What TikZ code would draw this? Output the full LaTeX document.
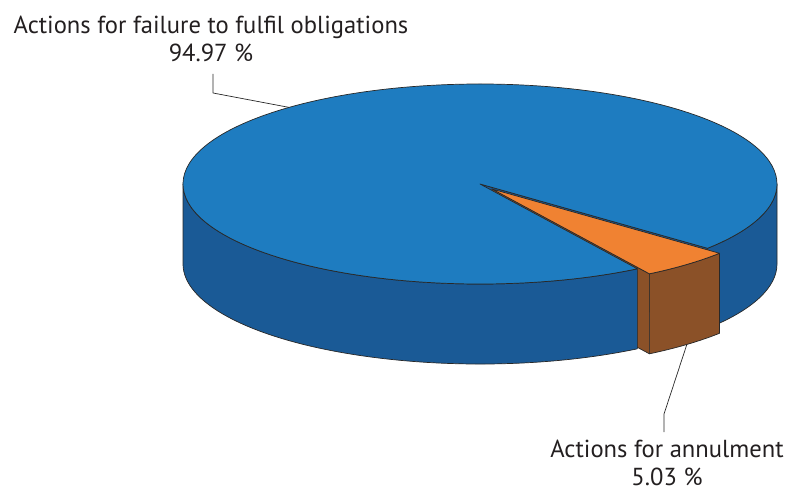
\documentclass[tikz,border=0pt]{standalone}
\usepackage{fontspec}
\setmainfont{PT Sans}
\usetikzlibrary{calc}
\definecolor{topblue}{RGB}{30,124,192}
\definecolor{sideblue}{RGB}{26,90,150}
\definecolor{toporange}{RGB}{240,130,50}
\definecolor{sidebrown}{RGB}{139,81,40}
\definecolor{edgegray}{RGB}{40,40,40}
\definecolor{textgray}{RGB}{35,31,32}
\begin{document}
\begin{tikzpicture}[x=0.03cm,y=0.03cm,line join=round,
    face/.style={draw=edgegray,line width=0.6pt},
    blue top/.style={face,fill=topblue},
    blue side/.style={face,fill=sideblue},
    orange top/.style={face,fill=toporange},
    orange side/.style={face,fill=sidebrown},
    leader/.style={draw=edgegray,line width=0.6pt},
    label text/.style={align=center,text=textgray,font=\fontsize{21}{24}\selectfont,inner sep=0pt}]
        \useasboundingbox (0,0) rectangle (788,495);
        \coordinate (c) at (480,311);
        \coordinate (o) at (492,306);

        % cut faces, mostly hidden
        \path[blue side] (c) -- ++(-40:297 and 100) -- ++(0,-80) -- ($(c)+(0,-80)$) -- cycle;
        \path[orange side] (o) -- ++(-58:297 and 100) -- ++(0,-80) -- ($(o)+(0,-80)$) -- cycle;

        % blue slice, 94.97 %
        \path[blue side] (c) ++(180:297 and 100) arc[start angle=180,end angle=302,x radius=297,y radius=100]
            -- ++(0,-80) arc[start angle=302,end angle=180,x radius=297,y radius=100] -- cycle;
        \path[blue side] (c) ++(-40:297 and 100) arc[start angle=-40,end angle=0,x radius=297,y radius=100]
            -- ++(0,-80) arc[start angle=0,end angle=-40,x radius=297,y radius=100] -- cycle;
        \path[blue top] (c) -- ++(-40:297 and 100) arc[start angle=-40,end angle=302,x radius=297,y radius=100] -- cycle;

        % orange slice, 5.03 %
        \path[orange side] (o) ++(-58:297 and 100) arc[start angle=-58,end angle=-40,x radius=297,y radius=100]
            -- ++(0,-80) arc[start angle=-40,end angle=-58,x radius=297,y radius=100] -- cycle;
        \path[orange top] (o) -- ++(-58:297 and 100) arc[start angle=-58,end angle=-40,x radius=297,y radius=100] -- cycle;

        % labels
        \node[label text,anchor=south] at (211,433) (fail) {Actions for failure to fulfil obligations\\94.97 \%};
        \node[label text,anchor=north] at (667,55) (annul) {Actions for annulment\\5.03 \%};

        \coordinate (failpt) at ($(c)+(130:297 and 100)$);
        \coordinate (failbend) at (213,402);
        \coordinate (failend) at (213,421);
        \coordinate (annulpt) at ($(o)+(-49:297 and 100)+(0,-80)$);
        \coordinate (annulbend) at (664,81);
        \coordinate (annulend) at (664,63);
        \draw[leader] (failpt) -- (failbend) -- (failend);
        \draw[leader] (annulpt) -- (annulbend) -- (annulend);
\end{tikzpicture}
\end{document}
